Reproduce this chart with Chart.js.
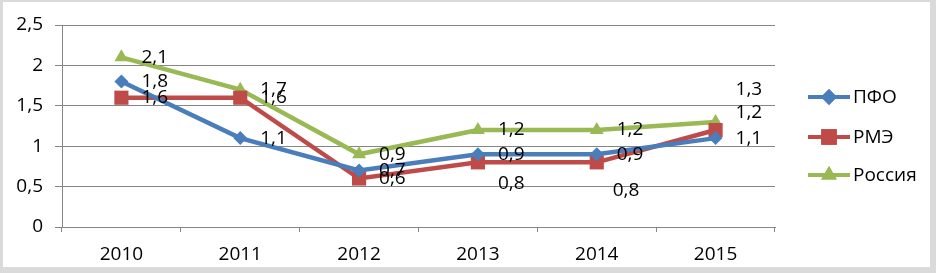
<!DOCTYPE html>
<html>
<head>
<meta charset="utf-8">
<script src="https://cdn.jsdelivr.net/npm/chart.js@4/dist/chart.umd.min.js"></script>
<style>
  html, body { margin: 0; padding: 0; background: #fff; }
  #wrap { position: relative; width: 936px; height: 273px; }
  #frame { position: absolute; left: 0; top: 0; width: 936px; height: 273px; box-sizing: border-box;
           border-style: solid; border-color: #dadada; border-width: 2px 6px 6px 3px; }
  #c { position: absolute; left: 0; top: 0; }
</style>
</head>
<body>
<div id="wrap">
  <div id="frame"></div>
  <canvas id="c" width="936" height="273"></canvas>
</div>
<script>
var years = ['2010', '2011', '2012', '2013', '2014', '2015']
var pfo = [1.8, 1.1, 0.7, 0.9, 0.9, 1.1]
var rme = [1.6, 1.6, 0.6, 0.8, 0.8, 1.2]
var russia = [2.1, 1.7, 0.9, 1.2, 1.2, 1.3]
var seriesNames = ['ПФО', 'РМЭ', 'Россия']

var FONT = '"Open Sans", sans-serif'
var gridColor = '#868686'

function comma(v){ return String(v).replace('.', ',') }

// where the value labels sit relative to the point (Excel moved a few by hand)
var labelShift = {
  '1-3': [20, 21],
  '1-4': [16, 28],
  '1-5': [20, -17],
  '2-5': [20, -32]
}

var valueLabels = {
  id: 'valueLabels',
  afterDatasetsDraw: function(chart){
    var ctx = chart.ctx
    ctx.save()
    ctx.font = '19px ' + FONT
    ctx.fillStyle = '#000'
    ctx.textAlign = 'left'
    ctx.textBaseline = 'middle'
    chart.data.datasets.forEach(function(ds, di){
      chart.getDatasetMeta(di).data.forEach(function(pt, i){
        var s = labelShift[di + '-' + i] || [20, 0]
        ctx.fillText(comma(ds.data[i]), pt.x + s[0], pt.y + s[1])
      })
    })
    ctx.restore()
  }
}

var sideLegend = {
  id: 'sideLegend',
  afterDraw: function(chart){
    var ctx = chart.ctx
    var rows = [97, 137, 175]
    ctx.save()
    chart.data.datasets.forEach(function(ds, di){
      var y = rows[di]
      ctx.strokeStyle = ds.borderColor
      ctx.lineWidth = 4
      ctx.beginPath()
      ctx.moveTo(808, y)
      ctx.lineTo(850, y)
      ctx.stroke()
      ctx.fillStyle = ds.borderColor
      Chart.helpers.drawPoint(ctx, {pointStyle: ds.pointStyle, radius: ds.pointRadius + 1, borderWidth: 0, rotation: 0}, 829, y)
      ctx.fill()
      ctx.fillStyle = '#000'
      ctx.font = '19px ' + FONT
      ctx.textAlign = 'left'
      ctx.textBaseline = 'middle'
      ctx.fillText(ds.label, 853, y + 1)
    })
    ctx.restore()
  }
}

function line(label, data, color, style, r){
  return {
    label: label, data: data,
    borderColor: color, backgroundColor: color,
    pointBackgroundColor: color, pointBorderColor: color,
    borderWidth: 4.5, pointStyle: style, pointRadius: r, pointBorderWidth: 0,
    tension: 0
  }
}

new Chart(document.getElementById('c'), {
  type: 'line',
  data: {
    labels: years,
    datasets: [
      line(seriesNames[0], pfo, '#4A7EBB', 'rectRot', 7),
      line(seriesNames[1], rme, '#BE4B48', 'rect', 10),
      line(seriesNames[2], russia, '#98B954', 'triangle', 8)
    ]
  },
  options: {
    responsive: false,
    animation: false,
    layout: { padding: { top: 25, right: 161, left: 0, bottom: 0 } },
    plugins: { legend: { display: false }, tooltip: { enabled: false } },
    scales: {
      x: {
        offset: true,
        grid: { drawOnChartArea: false, drawTicks: true, tickLength: 5, color: gridColor, offset: true },
        border: { display: true, color: gridColor, width: 1 },
        ticks: { color: '#000', font: { family: FONT, size: 19 }, padding: 11, maxRotation: 0 },
        afterFit: function(s){ s.height = 46 }
      },
      y: {
        min: 0, max: 2.5,
        grid: { color: gridColor, tickLength: 7, drawTicks: true },
        border: { display: true, color: gridColor, width: 1 },
        ticks: { stepSize: 0.5, color: '#000', font: { family: FONT, size: 19 }, padding: 12,
                 callback: function(v){ return comma(v) } },
        afterFit: function(s){ s.width = 62 }
      }
    }
  },
  plugins: [valueLabels, sideLegend]
})
</script>
</body>
</html>
